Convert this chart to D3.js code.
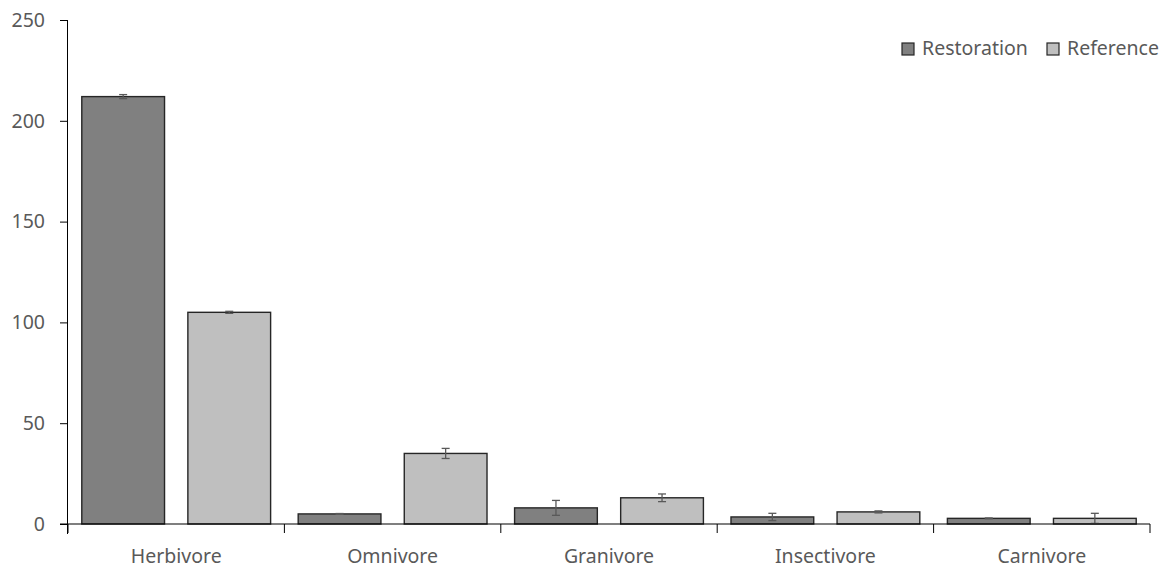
<!DOCTYPE html>
<html>
<head>
<meta charset="utf-8">
<script src="https://cdn.jsdelivr.net/npm/d3@7"></script>
<style>
  html, body { margin: 0; padding: 0; background: #fff; }
  svg text { font-family: "Noto Sans", "Open Sans", sans-serif; fill: #595959; }
</style>
</head>
<body>
<svg id="chart" width="1170" height="568"></svg>
<script>
// Feeding guilds and mean abundance per site type
const categories = ["Herbivore", "Omnivore", "Granivore", "Insectivore", "Carnivore"];
const seriesNames = ["Restoration", "Reference"];
const restorationValues = [212, 5, 8, 3.5, 2.8];
const restorationErrors = [1, 0.2, 3.7, 1.8, 0.2];
const referenceValues = [105, 35, 13, 6, 2.8];
const referenceErrors = [0.5, 2.5, 1.9, 0.5, 2.5];
const yTicks = [0, 50, 100, 150, 200, 250];
const seriesColors = ["#808080", "#bfbfbf"];

const svg = d3.select("#chart");
const margin = { left: 68, right: 20, top: 20, bottom: 44 };
const fontSize = "19.5px";

const x0 = d3.scaleBand().domain(categories)
  .range([margin.left, 1150]).paddingInner(0).paddingOuter(0);
const x1 = d3.scaleBand().domain(seriesNames)
  .range([0, x0.bandwidth()]).paddingInner(0.22).paddingOuter(0.13);
const y = d3.scaleLinear().domain([0, 250]).range([524, 20]);

const rows = categories.map((c, i) => ({
  category: c,
  values: [
    { series: seriesNames[0], value: restorationValues[i], err: restorationErrors[i] },
    { series: seriesNames[1], value: referenceValues[i], err: referenceErrors[i] }
  ]
}));

// bars
const groups = svg.append("g").selectAll("g").data(rows).join("g")
  .attr("transform", d => `translate(${x0(d.category)},0)`);

groups.selectAll("rect").data(d => d.values).join("rect")
  .attr("x", d => x1(d.series))
  .attr("y", d => y(d.value))
  .attr("width", x1.bandwidth())
  .attr("height", d => y(0) - y(d.value))
  .attr("fill", (d, i) => seriesColors[i])
  .attr("stroke", "#262626")
  .attr("stroke-width", 1.4);

// error bars
const eb = groups.selectAll("g.err").data(d => d.values).join("g").attr("class", "err")
  .attr("stroke", "#595959").attr("stroke-width", 1.3);
eb.append("line")
  .attr("x1", d => x1(d.series) + x1.bandwidth() / 2)
  .attr("x2", d => x1(d.series) + x1.bandwidth() / 2)
  .attr("y1", d => y(d.value + d.err))
  .attr("y2", d => y(Math.max(0, d.value - d.err)));
[1, -1].forEach(s => {
  eb.append("line")
    .attr("x1", d => x1(d.series) + x1.bandwidth() / 2 - 4)
    .attr("x2", d => x1(d.series) + x1.bandwidth() / 2 + 4)
    .attr("y1", d => y(Math.max(0, d.value + s * d.err)))
    .attr("y2", d => y(Math.max(0, d.value + s * d.err)));
});

// y axis
const yAxis = svg.append("g").attr("transform", `translate(${margin.left},0)`)
  .call(d3.axisLeft(y).tickValues(yTicks).tickSize(8).tickPadding(15).tickFormat(d3.format("d")));
yAxis.select(".domain").attr("stroke", "#000").attr("d", `M-0.5,${y(250)}V${y(0) + 10}`);
yAxis.selectAll(".tick line").attr("stroke", "#000");
yAxis.selectAll(".tick text").style("font-size", fontSize).attr("fill", "#595959");

// x axis with boundary ticks between categories
const xAxisG = svg.append("g").attr("transform", `translate(0,${y(0)})`);
xAxisG.append("line").attr("x1", margin.left - 8).attr("x2", 1150)
  .attr("stroke", "#000").attr("stroke-width", 1.2);
const bounds = categories.map(c => x0(c)).concat([x0(categories[categories.length - 1]) + x0.bandwidth()]);
xAxisG.selectAll("line.bt").data(bounds).join("line").attr("class", "bt")
  .attr("x1", d => d).attr("x2", d => d).attr("y1", 0).attr("y2", 9)
  .attr("stroke", "#000");
xAxisG.selectAll("text").data(categories).join("text")
  .attr("x", d => x0(d) + x0.bandwidth() / 2)
  .attr("y", 38.5)
  .attr("text-anchor", "middle")
  .style("font-size", fontSize)
  .text(d => d);

// legend
const legend = svg.append("g");
const legendPos = [902, 1047];
seriesNames.forEach((s, i) => {
  legend.append("rect").attr("x", legendPos[i]).attr("y", 43)
    .attr("width", 12).attr("height", 12)
    .attr("fill", seriesColors[i]).attr("stroke", "#262626").attr("stroke-width", 1.2);
  legend.append("text").attr("x", legendPos[i] + 20).attr("y", 55)
    .style("font-size", fontSize).text(s);
});
</script>
</body>
</html>
